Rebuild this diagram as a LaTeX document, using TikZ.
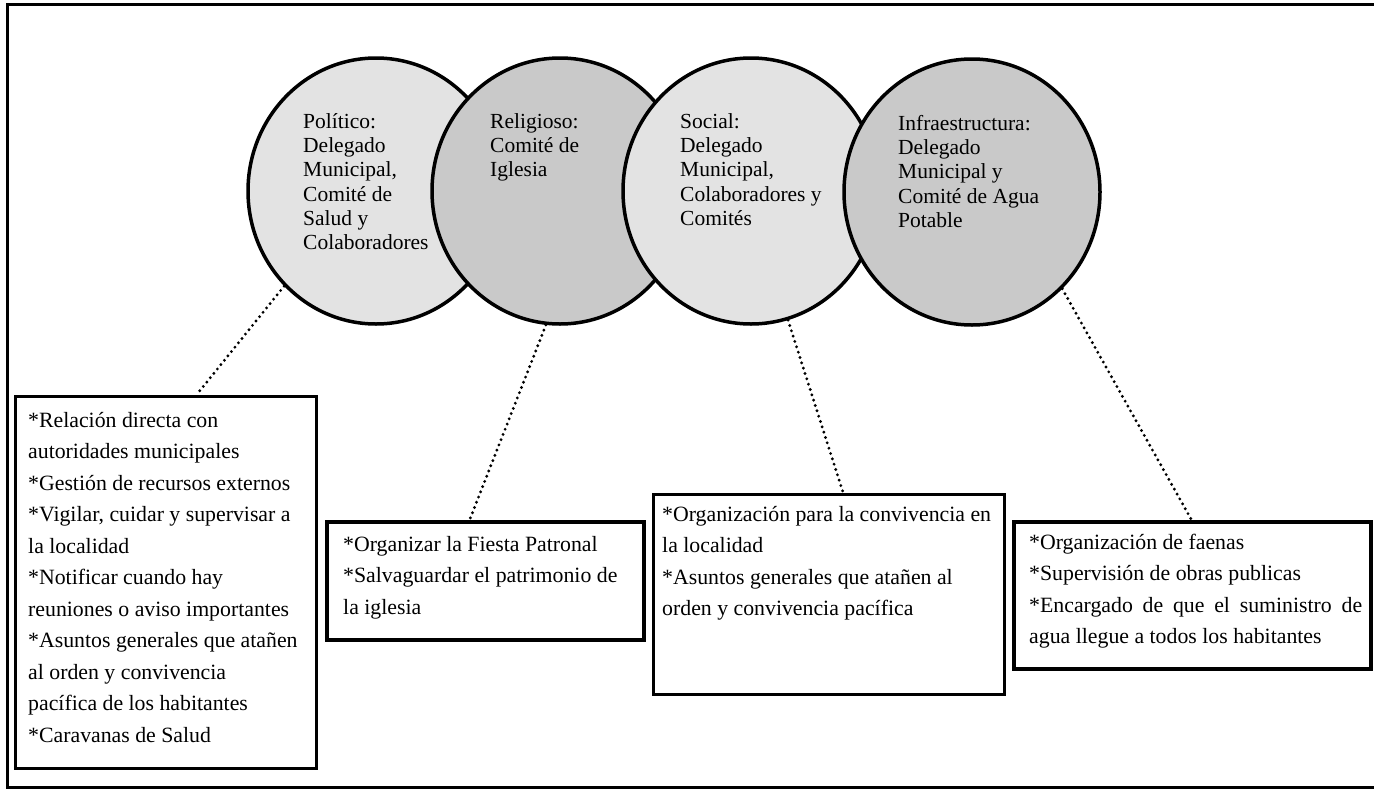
\documentclass[tikz,border=0pt]{standalone}
\usepackage{fontspec}
\setmainfont{Liberation Serif}
\usetikzlibrary{shapes.geometric,calc}
\begin{document}
\begin{tikzpicture}[x=1pt,y=-1pt,
  circ/.style={ellipse, draw, line width=3.5pt, minimum width=256pt, minimum height=266pt, inner sep=0pt},
  light/.style={fill=gray!22},
  dark/.style={fill=gray!42},
  ctext/.style={anchor=north west, inner sep=0pt, align=left, font=\fontsize{21.5}{24.3}\selectfont},
  btext/.style={anchor=north west, inner sep=0pt, align=left, font=\fontsize{21.8}{31.5}\selectfont},
  boxthin/.style={draw, line width=2.5pt, anchor=north west, inner sep=0pt},
  boxthick/.style={draw, line width=3.6pt, anchor=north west, inner sep=0pt},
  dots/.style={line width=3.2pt, line cap=round, dash pattern=on 0pt off 5.6pt}
]
\useasboundingbox (0,0) rectangle (1374,790);
% outer frame (no right side visible)
\draw[line width=3pt] (1374,4) -- (7,4) -- (7,787) -- (1374,787);

% circles
\node[circ, light] (c1) at (376,191) {};
\node[circ, dark]  (c2) at (560,191) {};
\node[circ, light] (c3) at (751,191) {};
\node[circ, dark]  (c4) at (972,192) {};

\node[ctext] (t1) at (303,111) {\rule{0pt}{17pt}Político:\\Delegado\\Municipal,\\Comité de\\Salud y\\Colaboradores};
\node[ctext] (t2) at (490,111) {\rule{0pt}{17pt}Religioso:\\Comité de\\Iglesia};
\node[ctext] (t3) at (680,111) {\rule{0pt}{17pt}Social:\\Delegado\\Municipal,\\Colaboradores y\\Comités};
\node[ctext] (t4) at (898,113) {\rule{0pt}{17pt}Infraestructura:\\Delegado\\Municipal y\\Comité de Agua\\Potable};

% boxes
\node[boxthin,  minimum width=301pt, minimum height=372pt] (b1) at (14,395) {};
\node[boxthick, minimum width=317pt, minimum height=118pt] (b2) at (325,520) {};
\node[boxthin,  minimum width=351pt, minimum height=200pt] (b3) at (652,493) {};
\node[boxthick, minimum width=357pt, minimum height=147pt] (b4) at (1012,520) {};

\node[btext] (s1) at (28,410) {\rule{0pt}{17pt}*Relación directa con\\autoridades municipales\\*Gestión de recursos externos\\*Vigilar, cuidar y supervisar a\\la localidad\\*Notificar cuando hay\\reuniones o aviso importantes\\*Asuntos generales que atañen\\al orden y convivencia\\pacífica de los habitantes\\*Caravanas de Salud};
\node[btext] (s2) at (343,534) {\rule{0pt}{17pt}*Organizar la Fiesta Patronal\\*Salvaguardar el patrimonio de\\la iglesia};
\node[btext] (s3) at (662,504) {\rule{0pt}{17pt}*Organización para la convivencia en\\la localidad\\*Asuntos generales que atañen al\\orden y convivencia pacífica};
\node[btext] (s4) at (1029,532) {\rule{0pt}{17pt}*Organización de faenas\\*Supervisión de obras publicas\\\makebox[333pt][s]{*Encargado de que el suministro de}\\agua llegue a todos los habitantes};

% dotted connectors
\draw[dots] (c1.-134) -- ($(b1.north west)!0.601!(b1.north east)$);
\draw[dots] (c2.-96) -- ($(b2.north west)!0.451!(b2.north east)$);
\draw[dots] (c3.-74) -- ($(b3.north west)!0.541!(b3.north east)$);
\draw[dots] (c4.-47) -- ($(b4.north west)!0.498!(b4.north east)$);
\end{tikzpicture}
\end{document}
